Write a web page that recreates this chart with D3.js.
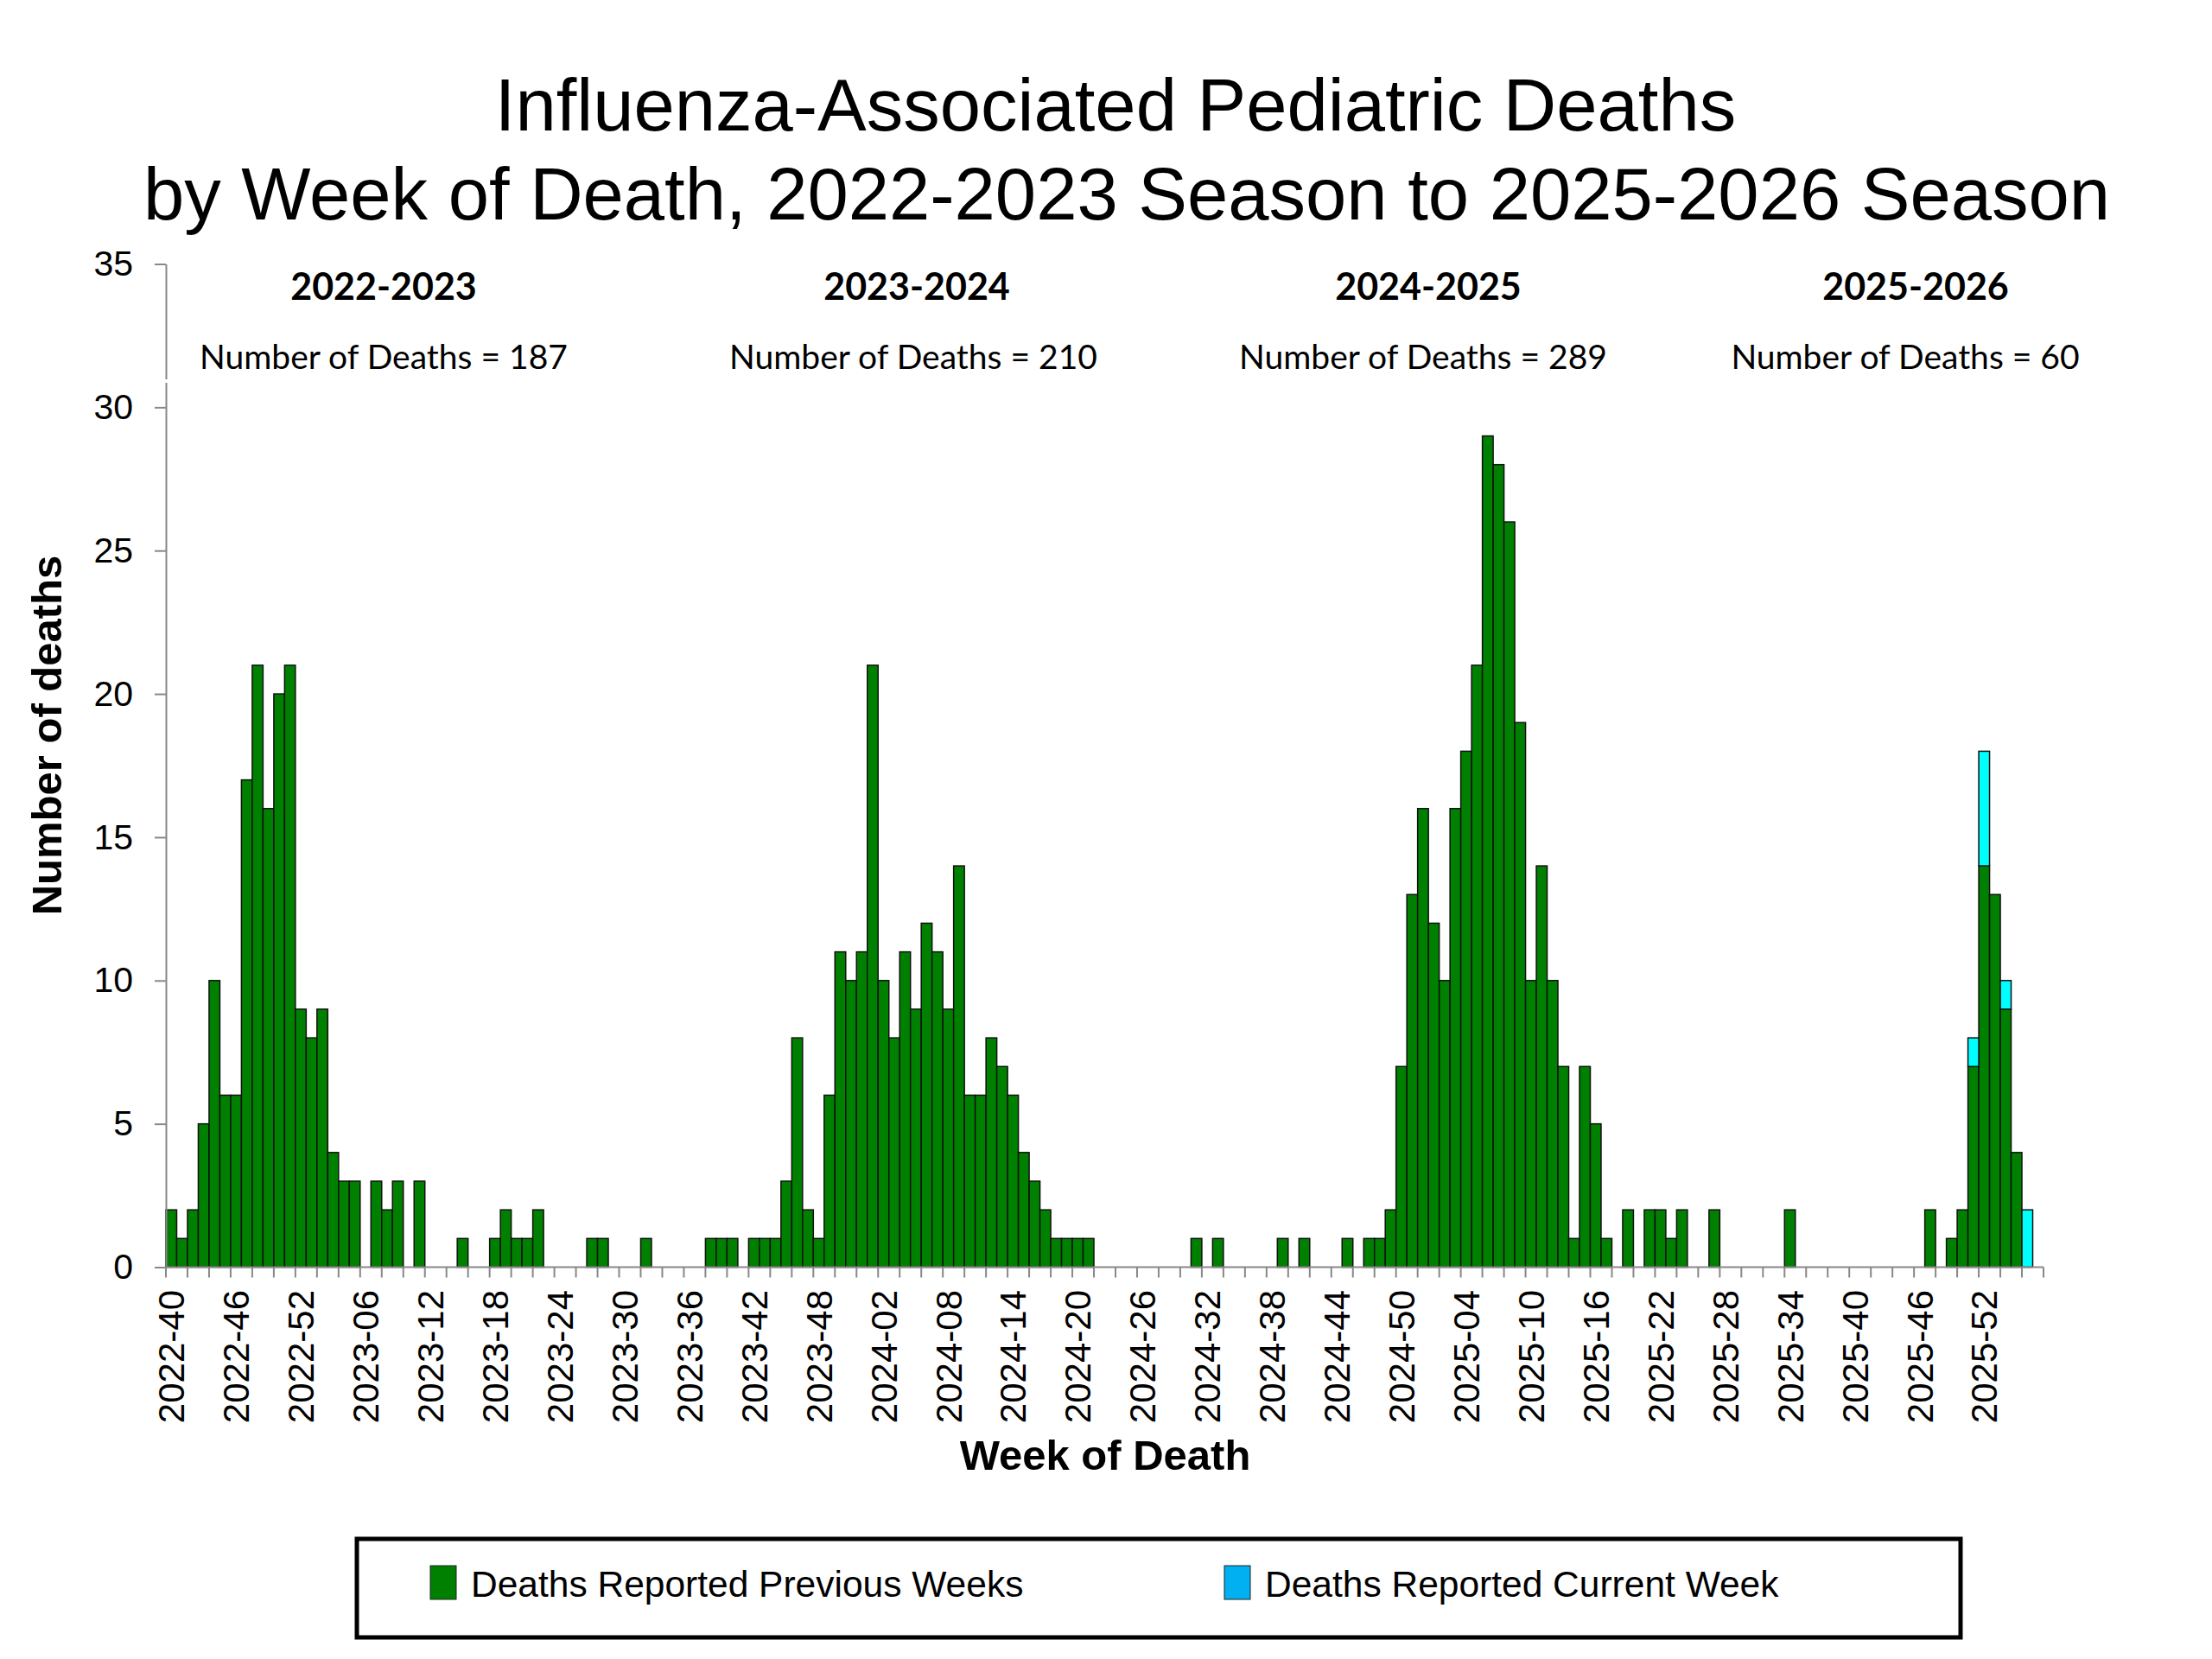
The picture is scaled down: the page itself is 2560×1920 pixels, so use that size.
<!DOCTYPE html>
<html>
<head>
<meta charset="utf-8">
<script src="https://cdn.jsdelivr.net/npm/d3@7"></script>
<style>
body { margin: 0; background: #fff; }
text { font-family: "Liberation Sans", Arial, sans-serif; }
</style>
</head>
<body>
<script>
var width = 2560, height = 1920;

// MMWR week ranges on the axis: [year, first week, last week]
var weekRanges = [[2022, 40, 52], [2023, 1, 52], [2024, 1, 52], [2025, 1, 53], [2026, 1, 4]];

var categories = [];
weekRanges.forEach(function(r) {
    for (var w = r[1]; w <= r[2]; w++) categories.push(r[0] + "-" + (w < 10 ? "0" + w : w));
});

// deaths reported in previous weeks, one row per season (week 40 to week 39)
var previousWeeks = [].concat(
    [2,1,2,5,10,6,6,17,21,16,20,21,9, 8,9,4,3,3,0,3,2,3,0,3,0,0,0,1,0,0,1,2,1,1,2,0,0,0,0,1,1,0,0,0,1,0,0,0,0,0,1,1],
    [1,0,1,1,1,3,8,2,1,6,11,10,11, 21,10,8,11,9,12,11,9,14,6,6,8,7,6,4,3,2,1,1,1,1,0,0,0,0,0,0,0,0,0,1,0,1,0,0,0,0,0,1],
    [0,1,0,0,0,1,0,1,1,2,7,13,16, 12,10,16,18,21,29,28,26,19,10,14,10,7,1,7,5,1,0,2,0,2,2,1,2,0,0,2,0,0,0,0,0,0,2,0,0,0,0,0],
    [0,0,0,0,0,0,0,2,0,1,2,7,14,13,9,4,0,0]
);
// deaths reported this week (2025-2026 season only)
var currentWeek = [].concat(
    new Array(156).fill(0),
    [0,0,0,0,0,0,0,0,0,0,0,1,4,0,1,0,2,0]
);

var tickLabels = ["2022-40","2022-46","2022-52","2023-06","2023-12","2023-18","2023-24","2023-30","2023-36",
    "2023-42","2023-48","2024-02","2024-08","2024-14","2024-20","2024-26","2024-32","2024-38","2024-44",
    "2024-50","2025-04","2025-10","2025-16","2025-22","2025-28","2025-34","2025-40","2025-46","2025-52"];
var yTicks = [0, 5, 10, 15, 20, 25, 30, 35];

var seasons = ["2022-2023", "2023-2024", "2024-2025", "2025-2026"];
var seasonTotals = [187, 210, 289, 60];
var seriesNames = ["Deaths Reported Previous Weeks", "Deaths Reported Current Week"];

// layout
var plotL = 192, plotR = 2365, plotT = 305.5, plotB = 1466.5;
var seasonNameX = [444, 1061, 1653, 2217];
var seasonCountX = [444, 1057, 1647, 2205];
var green = "#008000", cyan = "#00ffff", cyanKey = "#00b0f0";

var svg = d3.select("body").append("svg")
    .attr("width", width).attr("height", height)
    .style("background", "#fff");

var x = d3.scaleBand().domain(categories).range([plotL, plotR]).paddingInner(0).paddingOuter(0);
var y = d3.scaleLinear().domain([0, 35]).range([plotB, plotT]);

// title
var title = svg.append("text").attr("text-anchor", "middle").style("font-size", "85px").attr("fill", "#000");
title.append("tspan").attr("x", 1291).attr("y", 151).text("Influenza-Associated Pediatric Deaths");
title.append("tspan").attr("x", 1304).attr("y", 254).text("by Week of Death, 2022-2023 Season to 2025-2026 Season");

// bars
var rows = categories.map(function(c, i) { return {cat: c, prev: previousWeeks[i], cur: currentWeek[i]}; });

svg.append("g").selectAll("rect").data(rows.filter(function(d) { return d.prev > 0; }))
    .enter().append("rect")
    .attr("x", function(d) { return x(d.cat); })
    .attr("width", x.bandwidth())
    .attr("y", function(d) { return y(d.prev); })
    .attr("height", function(d) { return y(0) - y(d.prev); })
    .attr("fill", green).attr("stroke", "#111").attr("stroke-width", 1.5);

svg.append("g").selectAll("rect").data(rows.filter(function(d) { return d.cur > 0; }))
    .enter().append("rect")
    .attr("x", function(d) { return x(d.cat); })
    .attr("width", x.bandwidth())
    .attr("y", function(d) { return y(d.prev + d.cur); })
    .attr("height", function(d) { return y(d.prev) - y(d.prev + d.cur); })
    .attr("fill", cyan).attr("stroke", "#111").attr("stroke-width", 1.5);

// y axis
var yAxis = svg.append("g").attr("transform", "translate(" + plotL + ",0)")
    .call(d3.axisLeft(y).tickValues(yTicks).tickSize(13).tickSizeOuter(0).tickPadding(25));
yAxis.select(".domain").attr("stroke", "#888").attr("stroke-width", 2);
yAxis.selectAll(".tick line").attr("stroke", "#888").attr("stroke-width", 2);
yAxis.selectAll(".tick text").style("font-size", "41px").style("font-family", "'Liberation Sans', Arial, sans-serif").attr("fill", "#000");
// small break in the axis under the season labels
svg.append("rect").attr("x", plotL - 3).attr("y", 439).attr("width", 6).attr("height", 4).attr("fill", "#fff");

// x axis
var xg = svg.append("g");
xg.append("line").attr("x1", plotL).attr("x2", plotR).attr("y1", y(0)).attr("y2", y(0))
    .attr("stroke", "#888").attr("stroke-width", 2);
var tickPos = categories.filter(function(c, i) { return i % 2 === 0; }).map(function(c) { return x(c); });
tickPos.push(plotR);
xg.selectAll("line.tk").data(tickPos).enter().append("line").attr("class", "tk")
    .attr("x1", function(d) { return d; }).attr("x2", function(d) { return d; })
    .attr("y1", y(0)).attr("y2", y(0) + 12)
    .attr("stroke", "#888").attr("stroke-width", 2);
xg.selectAll("text").data(tickLabels).enter().append("text")
    .attr("transform", function(d) { return "translate(" + (x(d) + x.bandwidth() / 2) + "," + 1493 + ") rotate(-90)"; })
    .attr("text-anchor", "end").attr("dy", "0.36em")
    .style("font-size", "42px").attr("fill", "#000")
    .text(function(d) { return d; });

// axis titles
svg.append("text").attr("transform", "translate(71,851) rotate(-90)").attr("text-anchor", "middle")
    .style("font-size", "49px").style("font-weight", "bold").text("Number of deaths");
svg.append("text").attr("x", 1279).attr("y", 1701).attr("text-anchor", "middle")
    .style("font-size", "49px").style("font-weight", "bold").text("Week of Death");

// season labels
var sl = svg.append("g").selectAll("g").data(seasons).enter().append("g");
sl.append("text").attr("x", function(d, i) { return seasonNameX[i]; }).attr("y", 347)
    .attr("text-anchor", "middle").style("font-family", "Lato, 'Open Sans', sans-serif")
    .style("font-size", "43px").style("font-weight", "bold").text(function(d) { return d; });
sl.append("text").attr("x", function(d, i) { return seasonCountX[i]; }).attr("y", 427)
    .attr("text-anchor", "middle").style("font-family", "Lato, 'Open Sans', sans-serif")
    .style("font-size", "39px").text(function(d, i) { return "Number of Deaths = " + seasonTotals[i]; });

// legend
var lg = svg.append("g");
lg.append("rect").attr("x", 413).attr("y", 1781).attr("width", 1856).attr("height", 114)
    .attr("fill", "#fff").attr("stroke", "#000").attr("stroke-width", 5);
var keyX = [498, 1417], keyFill = [green, cyanKey];
var item = lg.selectAll("g").data(seriesNames).enter().append("g")
    .attr("transform", function(d, i) { return "translate(" + keyX[i] + ",1812)"; });
item.append("rect").attr("width", 30).attr("height", 39)
    .attr("fill", function(d, i) { return keyFill[i]; }).attr("stroke", "#222").attr("stroke-width", 1);
item.append("text").attr("x", 47).attr("y", 36).style("font-size", "42.5px").text(function(d) { return d; });
</script>
</body>
</html>
